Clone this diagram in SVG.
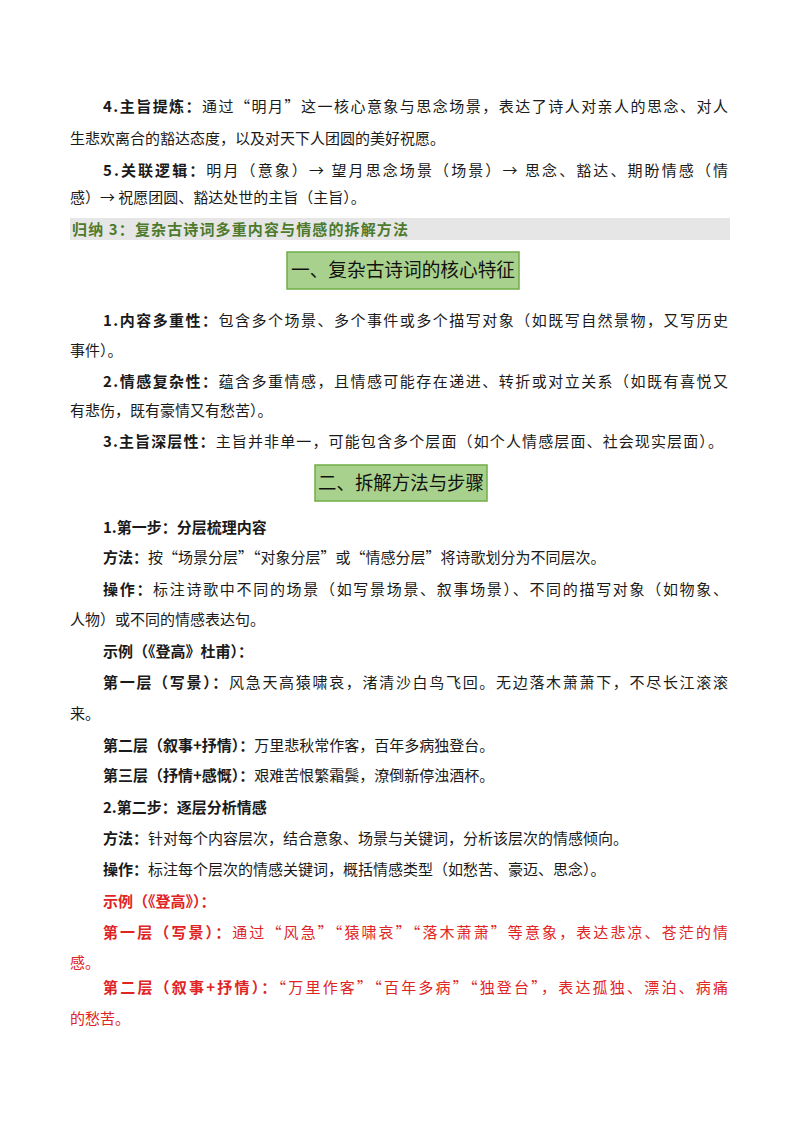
<svg xmlns="http://www.w3.org/2000/svg" width="800" height="1132" viewBox="0 0 800 1132">
<style>
text{font-family:"Noto Sans CJK SC","Liberation Serif",sans-serif;font-size:15px;fill:#1a1a1a}
.b{font-weight:bold}
.r{fill:#e02424}
.r tspan{fill:#e02424}
.g{fill:#4d7a2c;font-weight:bold;font-size:15px}
.h{font-size:19px;fill:#111}
.bx{fill:#a9d18e;stroke:#70ad47;stroke-width:1.5}
</style>
<rect width="800" height="1132" fill="#fff"/>
<text x="103" y="112" textLength="625" lengthAdjust="spacing"><tspan class="b">4.主旨提炼：</tspan>通过“明月”这一核心意象与思念场景，表达了诗人对亲人的思念、对人</text>
<text x="70" y="144">生悲欢离合的豁达态度，以及对天下人团圆的美好祝愿。</text>
<text x="103" y="176" textLength="625" lengthAdjust="spacing"><tspan class="b">5.关联逻辑：</tspan>明月（意象）→ 望月思念场景（场景）→ 思念、豁达、期盼情感（情</text>
<text x="70" y="203">感）→ 祝愿团圆、豁达处世的主旨（主旨）。</text>
<rect x="70" y="218" width="660" height="22" fill="#e6e6e6"/>
<text class="g" x="72" y="235" textLength="336" lengthAdjust="spacing">归纳 3：复杂古诗词多重内容与情感的拆解方法</text>
<g id="h1"><rect class="bx" x="287" y="252" width="232" height="37"/><text class="h" x="291" y="277" textLength="224" lengthAdjust="spacingAndGlyphs">一、复杂古诗词的核心特征</text></g>
<text x="103" y="326" textLength="625" lengthAdjust="spacing"><tspan class="b">1.内容多重性：</tspan>包含多个场景、多个事件或多个描写对象（如既写自然景物，又写历史</text>
<text x="70" y="356">事件）。</text>
<text x="103" y="387" textLength="625" lengthAdjust="spacing"><tspan class="b">2.情感复杂性：</tspan>蕴含多重情感，且情感可能存在递进、转折或对立关系（如既有喜悦又</text>
<text x="70" y="416">有悲伤，既有豪情又有愁苦）。</text>
<text x="103" y="447" textLength="620" lengthAdjust="spacing"><tspan class="b">3.主旨深层性：</tspan>主旨并非单一，可能包含多个层面（如个人情感层面、社会现实层面）。</text>
<g id="h2"><rect class="bx" x="315" y="465" width="172" height="36"/><text class="h" x="318" y="490" textLength="166" lengthAdjust="spacingAndGlyphs">二、拆解方法与步骤</text></g>
<text class="b" x="103" y="533">1.第一步：分层梳理内容</text>
<text x="103" y="563"><tspan class="b">方法：</tspan>按“场景分层”“对象分层”或“情感分层”将诗歌划分为不同层次。</text>
<text x="103" y="595" textLength="625" lengthAdjust="spacing"><tspan class="b">操作：</tspan>标注诗歌中不同的场景（如写景场景、叙事场景）、不同的描写对象（如物象、</text>
<text x="70" y="625">人物）或不同的情感表达句。</text>
<text class="b" x="103" y="657">示例（《登高》杜甫）：</text>
<text x="103" y="688" textLength="625" lengthAdjust="spacing"><tspan class="b">第一层（写景）：</tspan>风急天高猿啸哀，渚清沙白鸟飞回。无边落木萧萧下，不尽长江滚滚</text>
<text x="70" y="719">来。</text>
<text x="103" y="751"><tspan class="b">第二层（叙事+抒情）：</tspan>万里悲秋常作客，百年多病独登台。</text>
<text x="103" y="781"><tspan class="b">第三层（抒情+感慨）：</tspan>艰难苦恨繁霜鬓，潦倒新停浊酒杯。</text>
<text class="b" x="103" y="813">2.第二步：逐层分析情感</text>
<text x="103" y="844"><tspan class="b">方法：</tspan>针对每个内容层次，结合意象、场景与关键词，分析该层次的情感倾向。</text>
<text x="103" y="875"><tspan class="b">操作：</tspan>标注每个层次的情感关键词，概括情感类型（如愁苦、豪迈、思念）。</text>
<text class="b r" x="103" y="907">示例（《登高》）：</text>
<text class="r" x="103" y="938" textLength="625" lengthAdjust="spacing"><tspan class="b">第一层（写景）：</tspan>通过“风急”“猿啸哀”“落木萧萧”等意象，表达悲凉、苍茫的情</text>
<text class="r" x="70" y="968">感。</text>
<text class="r" x="103" y="993" textLength="625" lengthAdjust="spacing"><tspan class="b">第二层（叙事+抒情）：</tspan>“万里作客”“百年多病”“独登台”，表达孤独、漂泊、病痛</text>
<text class="r" x="70" y="1024">的愁苦。</text>
</svg>
